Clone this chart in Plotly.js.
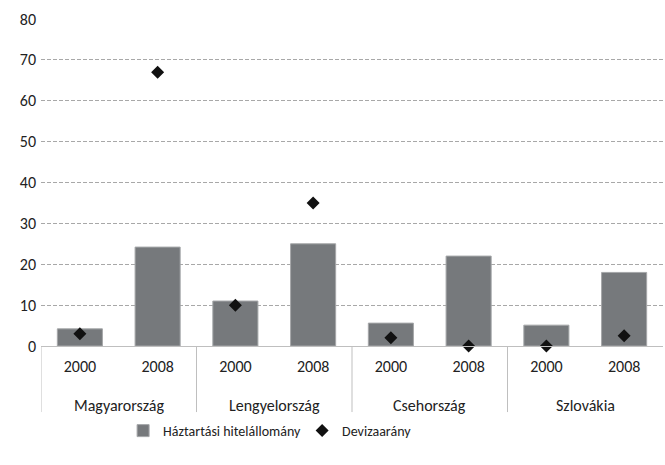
<!DOCTYPE html>
<html>
<head>
<meta charset="utf-8">
<script src="https://cdn.plot.ly/plotly-3.0.1.min.js"></script>
<style>html,body{margin:0;padding:0;background:#fff;}#chart{width:665px;height:465px;}</style>
</head>
<body>
<div id="chart"></div>
<script>
const countryNames = ["Magyarország", "Lengyelország", "Csehország", "Szlovákia"];
const years = ["2000", "2008", "2000", "2008", "2000", "2008", "2000", "2008"];
const loans = [4.2, 24.2, 11, 25, 5.6, 22, 5.1, 18];
const fxShare = [3, 67, 10, 35, 2, 0, 0, 2.5];

const font = "Carlito, 'Open Sans', 'Liberation Sans', sans-serif";
const xs = years.map((_, i) => i);

const traces = [
  {
    type: "bar",
    name: "Háztartási hitelállomány",
    x: xs,
    y: loans,
    marker: {color: "#76797c", line: {color: "#a5a7a9", width: 1}}
  },
  {
    type: "scatter",
    mode: "markers",
    name: "Devizaarány",
    x: xs,
    y: fxShare,
    marker: {symbol: "diamond", size: 10, color: "#111"},
    cliponaxis: false
  }
];

// group labels and dividers, placed through the x axis scale
const annotations = countryNames.map((c, g) => ({
  text: c, xref: "x", yref: "paper", x: 2 * g + 0.5, y: -0.183,
  xanchor: "center", yanchor: "middle", showarrow: false,
  font: {size: 16, color: "#222", family: font}
}));
const shapes = [-0.5, 1.5, 3.5, 5.5].map(b => ({
  type: "line", xref: "x", yref: "paper", x0: b, x1: b, y0: 0, y1: -0.202,
  line: {color: "#bfbfbf", width: 1}
}));

const layout = {
  width: 665, height: 465,
  margin: {l: 41, r: 2, t: 19, b: 119},
  paper_bgcolor: "#fff", plot_bgcolor: "#fff",
  font: {family: font, size: 14, color: "#222"},
  bargap: 0.42,
  showlegend: true,
  legend: {
    orientation: "h", x: 0.132, xanchor: "left", y: -0.26, yanchor: "middle",
    font: {size: 14, color: "#222"}, entrywidth: 134, itemwidth: 30
  },
  xaxis: {
    range: [-0.5, 7.5], tickmode: "array", tickvals: xs, ticktext: years,
    showline: true, linecolor: "#bfbfbf", linewidth: 1,
    ticks: "", tickfont: {size: 16, color: "#222"}, ticklabelstandoff: 6,
    showgrid: false, zeroline: false, automargin: false
  },
  yaxis: {
    range: [0, 80], dtick: 10, tick0: 0,
    showgrid: true, gridcolor: "#a8a8a8", griddash: "4px,2px", gridwidth: 1,
    zeroline: false, showline: false, automargin: false,
    tickfont: {size: 16, color: "#222"}, ticks: "", ticklabelstandoff: 4
  },
  annotations: annotations,
  shapes: shapes
};

Plotly.newPlot("chart", traces, layout, {displayModeBar: false, staticPlot: true});
</script>
</body>
</html>
